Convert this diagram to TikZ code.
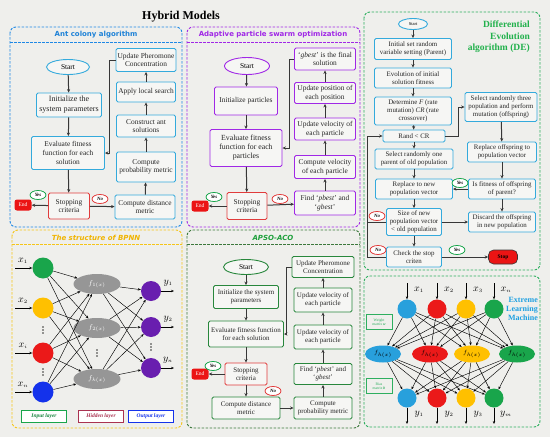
\documentclass[tikz,border=0pt]{standalone}
\usepackage{fontspec}
\setmainfont{Liberation Serif}
\setsansfont{DejaVu Sans}
\usetikzlibrary{arrows.meta,shapes.geometric}
\definecolor{bgc}{RGB}{239,239,236}
\definecolor{boxf}{RGB}{246,246,244}
\definecolor{acob}{RGB}{52,170,220}
\definecolor{acopanel}{RGB}{30,136,229}
\definecolor{acot}{RGB}{30,130,215}
\definecolor{purp}{RGB}{160,40,230}
\definecolor{degreen}{RGB}{46,175,95}
\definecolor{detitle}{RGB}{34,177,76}
\definecolor{ylw}{RGB}{245,197,24}
\definecolor{ylwt}{RGB}{240,180,0}
\definecolor{agreen}{RGB}{40,135,60}
\definecolor{agpanel}{RGB}{60,120,60}
\definecolor{agtitle}{RGB}{30,160,60}
\definecolor{redb}{RGB}{225,60,60}
\definecolor{redf}{RGB}{235,20,20}
\definecolor{darkl}{RGB}{55,55,55}
\definecolor{ngreen}{RGB}{25,165,75}
\definecolor{nyellow}{RGB}{255,192,0}
\definecolor{nred}{RGB}{235,25,25}
\definecolor{nblue}{RGB}{20,50,235}
\definecolor{npurple}{RGB}{105,30,175}
\definecolor{nsky}{RGB}{40,160,220}
\definecolor{ngray}{RGB}{150,150,150}
\definecolor{elmt}{RGB}{30,160,225}
\definecolor{hidt}{RGB}{170,50,80}
\newcommand\boxfnt{\fontsize{7.4}{8.6}\selectfont}
\newcommand\bigfnt{\fontsize{8}{10}\selectfont}
\newcommand\smfnt{\fontsize{7}{8.2}\selectfont}
\newcommand\defnt{\fontsize{6.9}{8}\selectfont}
\newcommand\ttlfnt{\sffamily\bfseries\fontsize{7}{8}\selectfont}
\tikzset{
  fbox/.style={draw, line width=0.9pt, rounded corners=1.5pt, fill=boxf, align=center, inner sep=0.5pt, font=\boxfnt, text=black!85},
  dbox/.style={fbox, draw=acob, font=\defnt},
  gbox/.style={fbox, draw=agreen, font=\smfnt},
  fell/.style={ellipse, draw, line width=0.9pt, fill=boxf, inner sep=0pt, font=\boxfnt},
  endb/.style={rectangle, rounded corners=2.5pt, fill=redf, text=white, font=\fontsize{5.5}{6}\selectfont, minimum width=17, minimum height=11, inner sep=0pt},
  yesb/.style={ellipse, draw=ngreen, line width=0.8pt, fill=white, minimum width=16, minimum height=9, inner sep=0pt, font=\fontsize{4.8}{5}\selectfont\bfseries\itshape},
  nob/.style={yesb, draw=redb},
  arr/.style={draw=darkl, line width=1pt, -{Stealth[length=3.5pt,width=3.2pt]}},
  panel/.style={line width=0.9pt, rounded corners=6pt, dash pattern=on 2.5pt off 1.5pt},
  nn/.style={circle, inner sep=0pt, minimum size=21},
  wire/.style={draw=black, line width=0.45pt, -{Stealth[length=3pt,width=2.4pt]}},
  hid/.style={ellipse, fill=ngray, minimum width=47, minimum height=20, inner sep=0pt, text=white, font=\fontsize{7}{7}\selectfont},
  ehid/.style={ellipse, minimum width=36, minimum height=17, inner sep=0pt, font=\fontsize{6}{6}\selectfont},
  legend/.style={draw, line width=0.8pt, minimum width=45, minimum height=12, inner sep=0pt, fill=white, font=\fontsize{5.5}{6}\selectfont\bfseries\itshape},
  mbox/.style={draw=degreen, line width=0.8pt, minimum width=26, minimum height=15, inner sep=0pt, align=center, text=degreen, font=\fontsize{3.8}{4.4}\selectfont}
}
\begin{document}
\begin{tikzpicture}[x=1pt,y=-1pt]
\fill[bgc] (0,0) rectangle (550,437);
\path[use as bounding box] (0,0) rectangle (550,437);
\node[font=\bfseries\fontsize{12}{14}\selectfont] (title) at (181,17) {Hybrid Models};

% ---------------- Ant colony ----------------
\draw[panel, draw=acopanel] (10,27) rectangle (182,227);
\draw[panel, draw=acopanel, rounded corners=0pt] (10,42) -- (182,42);
\node[font=\ttlfnt, text=acot] (acot) at (96,35) {Ant colony algorithm};
\node[fell, draw=acob, minimum width=43, minimum height=15] (a1) at (68,67) {Start};
\node[fbox, draw=acob, font=\bigfnt, minimum width=65, minimum height=24] (a2) at (69,105) {Initialize the\\system parameters};
\node[fbox, draw=acob, minimum width=73, minimum height=33] (a3) at (68,153) {Evaluate fitness\\function for each\\solution};
\node[fbox, draw=redb, minimum width=41, minimum height=26] (a4) at (69,206) {Stopping\\criteria};
\node[endb] (a5) at (23,205) {End};
\node[yesb] (ay) at (38,195) {Yes};
\node[nob] (an) at (100,199) {No};
\node[fbox, draw=acob, minimum width=60, minimum height=24] (a6) at (145,207) {Compute distance\\metric};
\node[fbox, draw=acob, minimum width=59, minimum height=30] (a7) at (146,167) {Compute\\probability metric};
\node[fbox, draw=acob, minimum width=59, minimum height=22] (a8) at (146,126) {Construct ant\\solutions};
\node[fbox, draw=acob, minimum width=59, minimum height=20] (a9) at (146,92) {Apply local search};
\node[fbox, draw=acob, minimum width=60, minimum height=23] (a10) at (146,60) {Update Pheromone\\Concentration};
\draw[arr] (a1) -- (a2);
\draw[arr] (a2) -- (a3);
\draw[arr] (a3) -- (a4);
\draw[arr] (a4) -- (a5);
\draw[arr] (a4) -- (a6);
\draw[arr] (a6) -- (a7);
\draw[arr] (a7) -- (a8);
\draw[arr] (a8) -- (a9);
\draw[arr] (a9) -- (a10);
\draw[arr] (a10.west) -- ++(-6,0) |- (a3.east);

% ---------------- APSO ----------------
\draw[panel, draw=purp] (187,27) rectangle (360,227);
\draw[panel, draw=purp, rounded corners=0pt] (187,42) -- (360,42);
\node[font=\ttlfnt, text=purp] (pt) at (273,35) {Adaptive particle swarm optimization};
\node[fell, draw=purp, minimum width=45, minimum height=17] (p1) at (247,66) {Start};
\node[fbox, draw=purp, minimum width=63, minimum height=28] (p2) at (246,101) {Initialize particles};
\node[fbox, draw=purp, font=\fontsize{7.8}{9}\selectfont, minimum width=72, minimum height=37] (p3) at (246,148) {Evaluate fitness\\function for each\\particles};
\node[fbox, draw=redb, minimum width=40, minimum height=27] (p4) at (247,206) {Stopping\\criteria};
\node[endb] (p5) at (200,206) {End};
\node[yesb] (py) at (214,197) {Yes};
\node[nob] (pn) at (280,199) {No};
\node[fbox, draw=purp, minimum width=61, minimum height=24] (p6) at (325,203) {Find `\textit{pbest}' and\\`\textit{gbest}'};
\node[fbox, draw=purp, minimum width=61, minimum height=23] (p7) at (325,167) {Compute velocity\\of each particle};
\node[fbox, draw=purp, minimum width=61, minimum height=22] (p8) at (325,129) {Update velocity of\\each particle};
\node[fbox, draw=purp, minimum width=61, minimum height=21] (p9) at (325,93) {Update position of\\each position};
\node[fbox, draw=purp, minimum width=61, minimum height=22] (p10) at (325,59) {`\textit{gbest}' is the final\\solution};
\draw[arr] (p1) -- (p2);
\draw[arr] (p2) -- (p3);
\draw[arr] (p3) -- (p4);
\draw[arr] (p4) -- (p5);
\draw[arr] (p4) -- (p6);
\draw[arr] (p6) -- (p7);
\draw[arr] (p7) -- (p8);
\draw[arr] (p8) -- (p9);
\draw[arr] (p9) -- (p10);
\draw[arr] (p10.west) -- ++(-5,0) |- (p3.east);

% ---------------- DE ----------------
\draw[panel, draw=degreen] (364,12) rectangle (540,270);
\node[anchor=north east, align=right, inner sep=0pt, font=\bfseries\fontsize{9.5}{11.5}\selectfont, text=detitle] (dt) at (530,21) {Differential\\Evolution\\algorithm (DE)};
\node[fell, draw=acob, minimum width=29, minimum height=11, font=\fontsize{4.5}{5}\selectfont] (d1) at (413,24) {Start};
\node[dbox, minimum width=77, minimum height=21] (d2) at (413,49) {Initial set random\\variable setting (Parent)};
\node[dbox, minimum width=77, minimum height=20] (d3) at (413,78) {Evolution of initial\\solution fitness};
\node[dbox, minimum width=77, minimum height=28] (d4) at (413,111) {Determine \textit{F} (rate\\mutation) \textit{CR} (rate\\crossover)};
\node[dbox, minimum width=62, minimum height=12] (d5) at (414,136) {Rand < CR};
\node[dbox, minimum width=72, minimum height=29] (d6) at (501,107) {Select randomly three\\population and perform\\mutation (offspring)};
\node[dbox, minimum width=69, minimum height=20] (d7) at (502,152) {Replace offspring to\\population vector};
\node[dbox, minimum width=78, minimum height=20] (d8) at (414,159) {Select randomly one\\parent of old population};
\node[dbox, minimum width=77, minimum height=20] (d9) at (414,189) {Replace to new\\population vector};
\node[dbox, minimum width=67, minimum height=20] (d10) at (502,189) {Is fitness of offspring\\of parent?};
\node[dbox, minimum width=55, minimum height=27] (d11) at (414,222) {Size of new\\population vector\\< old population};
\node[dbox, minimum width=67, minimum height=20] (d12) at (502,222) {Discard the offspring\\in new population};
\node[dbox, minimum width=55, minimum height=20] (d13) at (414,257) {Check the stop\\criten};
\node[rectangle, rounded corners=5pt, draw=darkl, line width=0.6pt, fill=redf, minimum width=29, minimum height=14, inner sep=0pt, font=\fontsize{5.5}{6}\selectfont\bfseries] (d14) at (503,257) {Stop};
\node[yesb] (dy1) at (460,183) {Yes};
\node[nob] (dn1) at (377,216) {No};
\node[nob] (dn2) at (378,250) {No};
\node[yesb] (dy2) at (457,250) {Yes};
\draw[arr] (d1) -- (d2);
\draw[arr] (d2) -- (d3);
\draw[arr] (d3) -- (d4);
\draw[arr] (d4) -- (d5);
\draw[arr] (d5) -- (d8);
\draw[arr] (d8) -- (d9);
\draw[arr] (d9) -- (d11);
\draw[arr] (d11) -- (d13);
\draw[arr] (d13) -- (d14);
\draw[arr] (d5.east) -- ++(13,0) |- (d6.west);
\draw[arr] (d6) -- (d7);
\draw[arr] (d7) -- (d10);
\draw[arr] (d10) -- (d9);
\draw[arr] (d10) -- (d12);
\draw[arr] (d11) -- (d12);
\draw[draw=darkl, line width=1pt] (d11.west) -- ++(-19,0);
\draw[arr] (d13.west) -- ++(-19,0) |- (d5.west);

% ---------------- BPNN ----------------
\draw[panel, draw=ylw] (12,230) rectangle (182,428);
\draw[panel, draw=ylw, rounded corners=0pt] (12,244) -- (182,244);
\node[font=\sffamily\bfseries\itshape\fontsize{7}{8}\selectfont, text=ylwt] (bt) at (96,237.5) {The structure of BPNN};
\node[nn, fill=ngreen] (i1) at (43,268) {};
\node[nn, fill=nyellow] (i2) at (43,308) {};
\node[nn, fill=nred] (i3) at (43,353) {};
\node[nn, fill=nblue] (i4) at (43,392) {};
\node[hid] (h1) at (97,284) {$f_{1(x)}$};
\node[hid] (h2) at (97,328) {$f_{2(x)}$};
\node[hid] (h3) at (97,379) {$f_{k(x)}$};
\node[nn, minimum size=20, fill=npurple] (o1) at (151,291) {};
\node[nn, minimum size=20, fill=npurple] (o2) at (151,327) {};
\node[nn, minimum size=20, fill=npurple] (o3) at (151,368) {};
\foreach \cx/\cy in {43/330, 43/372, 97/353, 151/347}
  \foreach \d in {-3,0,3} \fill[black!80] (\cx,\cy+\d) circle (0.8);
\foreach \s in {i1,i2,i3,i4} \foreach \t in {h1,h2,h3} \draw[wire] (\s) -- (\t);
\foreach \s in {h1,h2,h3} \foreach \t in {o1,o2,o3} \draw[wire] (\s) -- (\t);
\coordinate (i1s) at (15,268);
\coordinate (i2s) at (15,308);
\coordinate (i3s) at (15,353);
\coordinate (i4s) at (15,392);
\foreach \n in {i1,i2,i3,i4} \draw[wire, line width=0.6pt] (\n s) -- (\n);
\node[font=\fontsize{10}{10}\selectfont] (lx1) at (23,261) {$x_{\scriptscriptstyle 1}$};
\node[font=\fontsize{10}{10}\selectfont] (lx2) at (23,301) {$x_{\scriptscriptstyle 2}$};
\node[font=\fontsize{10}{10}\selectfont] (lx3) at (23,346) {$x_{\scriptscriptstyle i}$};
\node[font=\fontsize{10}{10}\selectfont] (lx4) at (23,385) {$x_{\scriptscriptstyle n}$};
\coordinate (o1e) at (174,291);
\coordinate (o2e) at (174,327);
\coordinate (o3e) at (174,368);
\foreach \n in {o1,o2,o3} \draw[wire, line width=0.6pt] (\n) -- (\n e);
\node[font=\fontsize{10}{10}\selectfont] (ly1) at (168,283) {$y_{\scriptscriptstyle 1}$};
\node[font=\fontsize{10}{10}\selectfont] (ly2) at (168,319) {$y_{\scriptscriptstyle 2}$};
\node[font=\fontsize{10}{10}\selectfont] (ly3) at (168,360) {$y_{\scriptscriptstyle n}$};
\node[legend, draw=ngreen, text=ngreen!80!black] (lg1) at (44,416) {Input layer};
\node[legend, draw=hidt, text=hidt] (lg2) at (101,416) {Hidden layer};
\node[legend, draw=nblue, text=nblue] (lg3) at (151,416) {Output layer};

% ---------------- APSO-ACO ----------------
\draw[panel, draw=agpanel] (187,230) rectangle (360,428);
\draw[panel, draw=agpanel, rounded corners=0pt] (187,244) -- (360,244);
\node[font=\sffamily\bfseries\itshape\fontsize{7}{8}\selectfont, text=agtitle] (ct) at (273,237.5) {APSO-ACO};
\node[fell, draw=agreen, minimum width=45, minimum height=15] (c1) at (246,267) {Start};
\node[gbox, minimum width=65, minimum height=23] (c2) at (246,297) {Initialize the system\\parameters};
\node[gbox, minimum width=75, minimum height=26] (c3) at (246,334) {Evaluate fitness function\\for each solution};
\node[gbox, draw=redb, minimum width=42, minimum height=22] (c4) at (246,374) {Stopping\\criteria};
\node[endb] (c5) at (200,374) {End};
\node[yesb] (cy) at (213,366) {Yes};
\node[nob] (cn) at (273,391) {No};
\node[gbox, minimum width=68, minimum height=22] (c6) at (246,408) {Compute distance\\metric};
\node[gbox, minimum width=58, minimum height=22] (c7) at (323,408) {Compute\\probability metric};
\node[gbox, minimum width=58, minimum height=21] (c8) at (323,374) {Find `\textit{pbest}' and\\`\textit{gbest}'};
\node[gbox, minimum width=58, minimum height=24] (c9) at (323,337) {Update velocity of\\each particle};
\node[gbox, minimum width=58, minimum height=24] (c10) at (323,300) {Update velocity of\\each particle};
\node[gbox, minimum width=62, minimum height=21] (c11) at (323,267) {Update Pheromone\\Concentration};
\draw[arr] (c1) -- (c2);
\draw[arr] (c2) -- (c3);
\draw[arr] (c3) -- (c4);
\draw[arr] (c4) -- (c5);
\draw[arr] (c4) -- (c6);
\draw[arr] (c6) -- (c7);
\draw[arr] (c7) -- (c8);
\draw[arr] (c8) -- (c9);
\draw[arr] (c9) -- (c10);
\draw[arr] (c10) -- (c11);
\draw[arr] (c11.west) -- ++(-5,0) |- (c3.east);

% ---------------- ELM ----------------
\draw[panel, draw=degreen] (364,276) rectangle (540,427);
\node[anchor=north east, align=right, inner sep=0pt, font=\bfseries\fontsize{8}{9}\selectfont, text=elmt] (et) at (538,297) {Extreme\\Learning\\Machine};
\node[nn, minimum size=19, fill=nsky] (e1) at (407,309) {};
\node[nn, minimum size=19, fill=nred] (e2) at (437,309) {};
\node[nn, minimum size=19, fill=nyellow] (e3) at (466,309) {};
\node[nn, minimum size=19, fill=ngreen] (e4) at (494,309) {};
\node[ehid, fill=nsky] (g1) at (383,354) {$f_{h(x)}$};
\node[ehid, fill=nred] (g2) at (430,354) {$f_{h(x)}$};
\node[ehid, fill=nyellow] (g3) at (472,354) {$f_{h(x)}$};
\node[ehid, fill=ngreen] (g4) at (517,354) {$f_{h(x)}$};
\node[nn, minimum size=19, fill=nsky] (u1) at (407,398) {};
\node[nn, minimum size=19, fill=nred] (u2) at (437,398) {};
\node[nn, minimum size=19, fill=nyellow] (u3) at (466,398) {};
\node[nn, minimum size=19, fill=ngreen] (u4) at (494,398) {};
\foreach \s in {e1,e2,e3,e4} \foreach \t in {g1,g2,g3,g4} \draw[wire] (\s) -- (\t);
\foreach \s in {g1,g2,g3,g4} \foreach \t in {u1,u2,u3,u4} \draw[wire] (\s) -- (\t);
\coordinate (e1s) at (407,283);
\coordinate (e2s) at (437,283);
\coordinate (e3s) at (466,283);
\coordinate (e4s) at (494,283);
\coordinate (u1e) at (407,424);
\coordinate (u2e) at (437,424);
\coordinate (u3e) at (466,424);
\coordinate (u4e) at (494,424);
\foreach \n in {e1,e2,e3,e4} \draw[wire, line width=0.6pt] (\n s) -- (\n);
\foreach \n in {u1,u2,u3,u4} \draw[wire, line width=0.6pt] (\n) -- (\n e);
\node[font=\fontsize{10}{10}\selectfont] (ex1) at (419,290) {$x_{\scriptscriptstyle 1}$};
\node[font=\fontsize{10}{10}\selectfont] (ex2) at (449,290) {$x_{\scriptscriptstyle 2}$};
\node[font=\fontsize{10}{10}\selectfont] (ex3) at (478,290) {$x_{\scriptscriptstyle 3}$};
\node[font=\fontsize{10}{10}\selectfont] (ex4) at (506,290) {$x_{\scriptscriptstyle n}$};
\node[font=\fontsize{10}{10}\selectfont] (ey1) at (419,414) {$y_{\scriptscriptstyle 1}$};
\node[font=\fontsize{10}{10}\selectfont] (ey2) at (449,414) {$y_{\scriptscriptstyle 2}$};
\node[font=\fontsize{10}{10}\selectfont] (ey3) at (478,414) {$y_{\scriptscriptstyle 3}$};
\node[font=\fontsize{10}{10}\selectfont] (ey4) at (506,414) {$y_{\scriptscriptstyle m}$};
\node[mbox] (wm) at (379,322) {Weight\\matrix \textit{\textbf{w}}};
\node[mbox] (bm) at (379,386) {Bias\\matrix \textit{\textbf{b}}};
\end{tikzpicture}
\end{document}
